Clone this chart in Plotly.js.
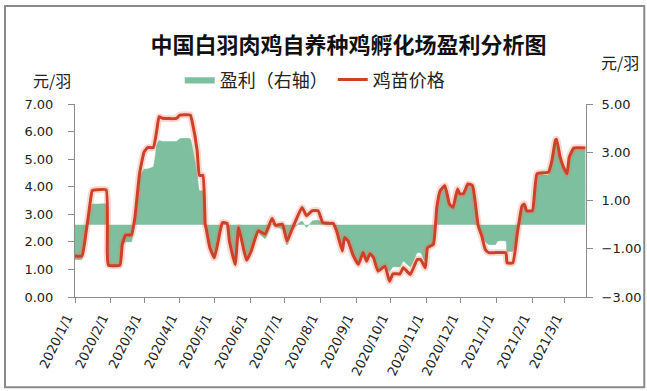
<!DOCTYPE html>
<html>
<head>
<meta charset="utf-8">
<script src="https://cdn.plot.ly/plotly-3.0.1.min.js"></script>
<style>
html,body{margin:0;padding:0;background:#fff;}
#chart{width:647px;height:391px;}
</style>
</head>
<body>
<div id="chart"></div>
<script>
// ---- data ----
var dates = ['2020-01-01','2020-01-07','2020-01-10','2020-01-14','2020-01-16','2020-01-20','2020-01-28','2020-01-29','2020-01-30','2020-02-09',
'2020-02-11','2020-02-14','2020-02-19','2020-02-22','2020-02-26','2020-03-01','2020-03-04','2020-03-09','2020-03-12','2020-03-14',
'2020-03-17','2020-03-29','2020-04-01','2020-04-10','2020-04-12','2020-04-16','2020-04-18','2020-04-21','2020-04-23','2020-04-24',
'2020-04-27','2020-05-01','2020-05-06','2020-05-08','2020-05-12','2020-05-14','2020-05-19','2020-05-22','2020-05-26','2020-05-29',
'2020-06-02','2020-06-08','2020-06-14','2020-06-20','2020-06-23','2020-06-29','2020-07-03','2020-07-08','2020-07-16','2020-07-20',
'2020-07-25','2020-07-30','2020-08-03','2020-08-09','2020-08-12','2020-08-15','2020-08-20','2020-08-22','2020-08-25','2020-08-29',
'2020-09-03','2020-09-07','2020-09-10','2020-09-13','2020-09-16','2020-09-20','2020-09-26','2020-09-30','2020-10-03','2020-10-09',
'2020-10-12','2020-10-18','2020-10-24','2020-10-27','2020-10-31','2020-11-02','2020-11-07','2020-11-10','2020-11-13','2020-11-17',
'2020-11-21','2020-11-24','2020-11-28','2020-11-30','2020-12-03','2020-12-07','2020-12-11','2020-12-13','2020-12-16','2020-12-19',
'2020-12-22','2020-12-25','2020-12-31','2021-01-02','2021-01-09','2021-01-10','2021-01-15','2021-01-19','2021-01-23','2021-01-25',
'2021-01-27','2021-02-01','2021-02-05','2021-02-15','2021-02-18','2021-02-21','2021-02-22','2021-02-25','2021-02-28','2021-03-03',
'2021-03-05','2021-03-09','2021-03-19'];

var chickPrice = [1.49,1.49,2.16,3.37,3.86,3.89,3.89,1.60,1.16,1.16,
1.91,2.25,2.25,2.89,4.47,5.26,5.42,5.42,6.05,6.54,
6.48,6.48,6.60,6.60,6.30,5.32,4.41,4.41,2.64,2.45,
1.79,1.42,2.40,2.70,2.67,2.03,1.18,2.52,1.79,1.33,
1.67,2.40,2.28,2.85,2.60,2.64,2.03,2.52,3.25,2.95,
3.13,3.13,2.70,2.67,2.67,2.40,1.67,2.16,2.03,1.55,
1.18,1.61,1.30,1.57,1.43,0.94,1.12,0.57,0.84,0.84,
1.06,0.82,1.36,1.36,1.06,1.79,1.91,3.25,3.86,4.04,
3.37,3.25,3.92,3.74,3.74,4.10,4.04,3.56,2.58,2.22,
1.73,1.61,1.61,1.61,1.61,1.24,1.24,2.34,3.31,3.37,
3.13,3.13,4.47,4.53,4.96,5.69,5.72,5.08,4.71,4.47,
5.08,5.40,5.40];

var profit = [-1.44,-1.44,-0.60,0.50,0.85,0.85,0.85,-1.50,-1.73,-1.73,
-0.90,-0.71,-0.71,0.25,1.96,2.30,2.31,2.40,3.30,3.49,
3.45,3.45,3.56,3.56,3.20,2.10,1.40,1.40,-0.10,-0.25,
-0.95,-1.35,-0.30,0.00,0.00,-0.68,-1.65,-0.15,-0.95,-1.45,
-1.15,-0.35,-0.58,0.05,-0.10,-0.18,-0.85,-0.20,0.15,-0.12,
0.15,0.18,0.10,0.05,0.03,-0.25,-1.05,-0.55,-0.70,-1.20,
-1.62,-1.15,-1.50,-1.20,-1.35,-1.90,-1.75,-1.95,-1.75,-1.75,
-1.52,-1.75,-1.17,-1.17,-1.55,-0.95,-0.80,0.70,1.35,1.55,
0.85,0.70,1.45,1.20,1.20,1.60,1.55,1.00,-0.10,-0.40,
-0.70,-0.82,-0.82,-0.68,-0.68,-1.10,-1.10,-0.30,0.75,0.80,
0.55,0.55,2.06,2.06,2.60,3.40,3.40,2.75,2.30,2.10,
2.75,3.10,3.10];

var titleText = '中国白羽肉鸡自养种鸡孵化场盈利分析图';
var seriesNames = ['盈利（右轴）', '鸡苗价格'];
var unitText = '元/羽';

var tickFont = {family: 'DejaVu Sans', size: 13, color: '#222'};
var cjk = 'Noto Sans CJK SC';

var traces = [
  {
    x: dates, y: profit, name: seriesNames[0], type: 'scatter', mode: 'lines',
    yaxis: 'y', fill: 'tozeroy', fillcolor: '#7dbf9f',
    line: {color: '#7dbf9f', width: 0.5, shape: 'spline', smoothing: 0.4},
    hoverinfo: 'skip'
  },
  {
    x: dates, y: chickPrice, type: 'scatter', mode: 'lines', yaxis: 'y2',
    line: {color: 'rgba(240,120,90,0.28)', width: 7, shape: 'spline', smoothing: 0.4},
    showlegend: false, hoverinfo: 'skip'
  },
  {
    x: dates, y: chickPrice, name: seriesNames[1], type: 'scatter', mode: 'lines', yaxis: 'y2',
    line: {color: '#cf4029', width: 3, shape: 'spline', smoothing: 0.4},
    hoverinfo: 'skip'
  }
];

var layout = {
  width: 647, height: 391,
  margin: {l: 75, r: 61, t: 104, b: 94, pad: 0},
  paper_bgcolor: '#ffffff', plot_bgcolor: '#ffffff',
  showlegend: true,
  title: {
    text: titleText, font: {family: cjk, size: 22, color: '#111', weight: 'bold'},
    xref: 'paper', x: 0.535, xanchor: 'center', yref: 'container', y: 0.885, yanchor: 'middle'
  },
  legend: {
    orientation: 'h', x: 0.205, xanchor: 'left', y: 1.125, yanchor: 'middle',
    font: {family: cjk, size: 18, color: '#222'}, bgcolor: 'rgba(0,0,0,0)',
    itemwidth: 30, traceorder: 'normal'
  },
  xaxis: {
    type: 'date', range: ['2020-01-01', '2021-03-19 12:00'],
    tick0: '2020-01-01', dtick: 'M1', tickformat: '%Y/%-m/%-d',
    tickangle: -64, tickfont: {family: 'DejaVu Sans', size: 13, color: '#222'},
    ticklabelshift: -8, ticklabelstandoff: 2,
    showline: true, linecolor: '#8c8c8c', linewidth: 1,
    ticks: 'outside', ticklen: 5, tickcolor: '#8c8c8c',
    showgrid: false, zeroline: false, fixedrange: true
  },
  yaxis: {
    side: 'right', range: [-3, 5], tick0: -3, dtick: 2, tickformat: '.2f',
    tickfont: tickFont, showline: true, linecolor: '#8c8c8c', linewidth: 1,
    ticks: 'outside', ticklen: 6, tickcolor: '#8c8c8c', ticklabelstandoff: 6,
    showgrid: false, zeroline: false, fixedrange: true
  },
  yaxis2: {
    overlaying: 'y', side: 'left', range: [0, 7], tick0: 0, dtick: 1, tickformat: '.2f',
    tickfont: tickFont, showline: true, linecolor: '#8c8c8c', linewidth: 1,
    ticks: 'outside', ticklen: 6, tickcolor: '#8c8c8c', ticklabelstandoff: 12,
    showgrid: false, zeroline: false, fixedrange: true
  },
  annotations: [
    {text: unitText, xref: 'paper', yref: 'paper', x: -0.045, y: 1.125, xanchor: 'center', yanchor: 'middle',
     showarrow: false, font: {family: cjk, size: 16, color: '#222'}},
    {text: unitText, xref: 'paper', yref: 'paper', x: 1.067, y: 1.218, xanchor: 'center', yanchor: 'middle',
     showarrow: false, font: {family: cjk, size: 16, color: '#222'}}
  ],
  shapes: [
    {type: 'rect', xref: 'paper', yref: 'paper', x0: -0.137, x1: 1.114, y0: -0.468, y1: 1.508,
     line: {color: '#8a8a8a', width: 2}, fillcolor: 'rgba(0,0,0,0)', layer: 'below'}
  ]
};

Plotly.newPlot('chart', traces, layout, {staticPlot: true, displayModeBar: false});
</script>
</body>
</html>
